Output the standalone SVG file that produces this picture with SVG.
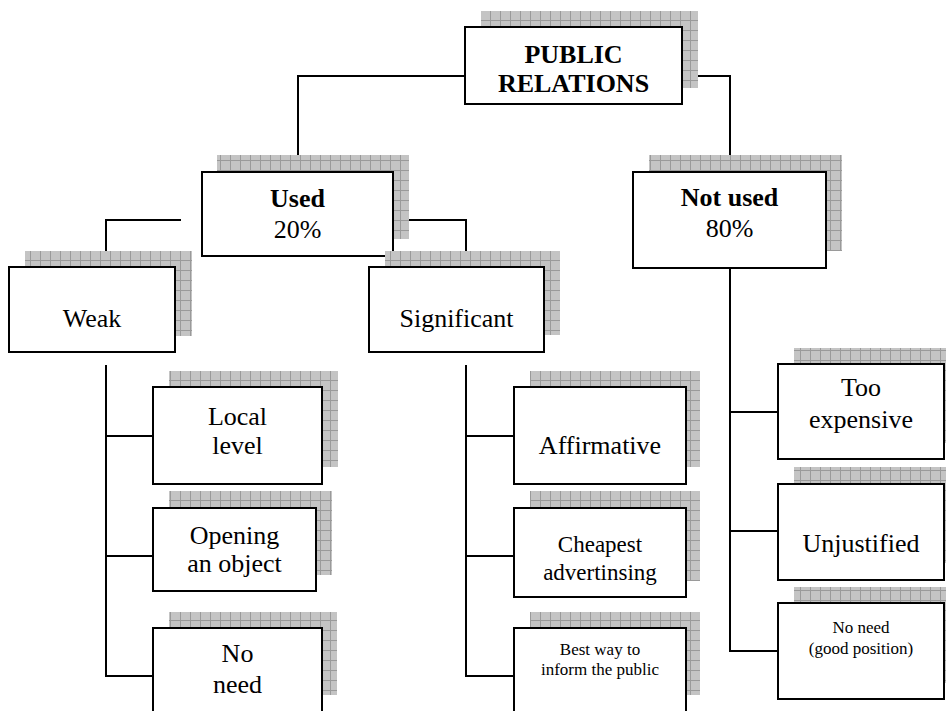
<svg xmlns="http://www.w3.org/2000/svg" width="946" height="711" viewBox="0 0 946 711" font-family="Liberation Serif, DejaVu Serif, serif">
<defs>
<pattern id="grid" x="0" y="0" width="10" height="10" patternUnits="userSpaceOnUse">
<rect width="10" height="10" fill="#c4c4c4"/>
<path d="M0 0.5H10M0.5 0V10" stroke="#9a9a9a" stroke-width="1" fill="none"/>
</pattern>
</defs>
<style>
.sh{fill:url(#grid);}
.bx{fill:#fff;stroke:#000;stroke-width:2;}
.t{font-family:'Liberation Serif','DejaVu Serif',serif;font-size:26px;fill:#000;text-anchor:middle;}
.b{font-weight:bold;}
.s{font-size:17px;}
.m{font-size:23px;}
.c{fill:none;stroke:#000;stroke-width:2;}
</style>
<rect width="946" height="711" fill="#fff"/>
<g id="connectors">
<path class="c" d="M465 76H298V172"/>
<path class="c" d="M682 76H730V172"/>
<path class="c" d="M393 220H466V267"/>
<path class="c" d="M181 220H106V267"/>
<path class="c" d="M106 365V676H153M106 436H153M106 556H153"/>
<path class="c" d="M466 365V676H514M466 436H514M466 556H514"/>
<path class="c" d="M730 268V651H778M730 412H778M730 531H778"/>
</g>
<g id="public-relations">
<rect class="sh" x="481" y="11" width="217" height="77"/>
<rect class="bx" x="465" y="27" width="217" height="77"/>
<text class="t b" x="573.5" y="63">PUBLIC</text>
<text class="t b" x="573.5" y="92">RELATIONS</text>
</g>
<g id="used">
<rect class="sh" x="217" y="155" width="192" height="84"/>
<rect class="bx" x="202" y="172" width="191" height="84"/>
<text class="t b" x="297.5" y="207">Used</text>
<text class="t" x="297.5" y="238">20%</text>
</g>
<g id="not-used">
<rect class="sh" x="649" y="155" width="193" height="96"/>
<rect class="bx" x="633" y="172" width="193" height="96"/>
<text class="t b" x="729.5" y="206">Not used</text>
<text class="t" x="729.5" y="237">80%</text>
</g>
<g id="weak">
<rect class="sh" x="25" y="251" width="167" height="85"/>
<rect class="bx" x="9" y="267" width="166" height="85"/>
<text class="t" x="92" y="327">Weak</text>
</g>
<g id="significant">
<rect class="sh" x="385" y="251" width="175" height="84"/>
<rect class="bx" x="369" y="267" width="175" height="85"/>
<text class="t" x="456.5" y="327">Significant</text>
</g>
<g id="local-level">
<rect class="sh" x="169" y="371" width="169" height="96"/>
<rect class="bx" x="153" y="387" width="169" height="97"/>
<text class="t" x="237.5" y="425">Local</text>
<text class="t" x="237.5" y="454">level</text>
</g>
<g id="opening-an-object">
<rect class="sh" x="169" y="491" width="163" height="84"/>
<rect class="bx" x="153" y="508" width="163" height="83"/>
<text class="t" x="234.5" y="544">Opening</text>
<text class="t" x="234.5" y="572">an object</text>
</g>
<g id="no-need-weak">
<rect class="sh" x="169" y="612" width="168" height="83"/>
<rect class="bx" x="153" y="628" width="169" height="90"/>
<text class="t" x="237.5" y="662">No</text>
<text class="t" x="237.5" y="693">need</text>
</g>
<g id="affirmative">
<rect class="sh" x="530" y="371" width="170" height="96"/>
<rect class="bx" x="514" y="387" width="172" height="97"/>
<text class="t" x="600" y="454">Affirmative</text>
</g>
<g id="cheapest-advertising">
<rect class="sh" x="530" y="491" width="170" height="90"/>
<rect class="bx" x="514" y="508" width="172" height="89"/>
<text class="t m" x="600" y="552">Cheapest</text>
<text class="t m" x="600" y="580">advertinsing</text>
</g>
<g id="best-way">
<rect class="sh" x="530" y="612" width="170" height="83"/>
<rect class="bx" x="514" y="628" width="172" height="90"/>
<text class="t s" x="600" y="655">Best way to</text>
<text class="t s" x="600" y="675">inform the public</text>
</g>
<g id="too-expensive">
<rect class="sh" x="794" y="348" width="160" height="95"/>
<rect class="bx" x="778" y="364" width="166" height="95"/>
<text class="t" x="861" y="396">Too</text>
<text class="t" x="861" y="428">expensive</text>
</g>
<g id="unjustified">
<rect class="sh" x="794" y="467" width="160" height="96"/>
<rect class="bx" x="778" y="484" width="166" height="96"/>
<text class="t" x="861" y="552">Unjustified</text>
</g>
<g id="no-need-good-position">
<rect class="sh" x="794" y="587" width="160" height="96"/>
<rect class="bx" x="778" y="603" width="166" height="96"/>
<text class="t s" x="861" y="633">No need</text>
<text class="t s" x="861" y="654">(good position)</text>
</g>
</svg>
